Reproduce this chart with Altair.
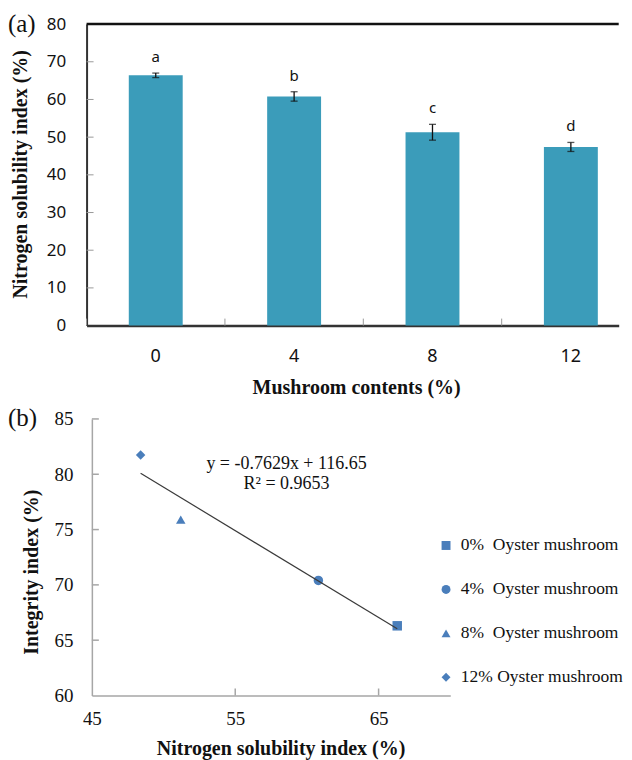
import altair as alt
import pandas as pd

# ---------------- data ----------------
contents = ["0", "4", "8", "12"]
nsi = [66.4, 60.8, 51.3, 47.4]
nsi_err = [0.6, 1.25, 2.1, 1.2]
letters = ["a", "b", "c", "d"]
y_ticks_a = [0, 10, 20, 30, 40, 50, 60, 70, 80]

groups = ["0%\u00a0 Oyster mushroom", "4%\u00a0 Oyster mushroom",
          "8%\u00a0 Oyster mushroom", "12% Oyster mushroom"]
nsi_b = [66.3, 60.8, 51.2, 48.4]
integrity = [66.3, 70.4, 75.9, 81.75]
shapes = ["square", "circle", "triangle-up", "diamond"]
x_ticks_b = [45, 55, 65]
y_ticks_b = [60, 65, 70, 75, 80, 85]
equation = "y = -0.7629x + 116.65"
r2 = "R\u00b2 = 0.9653"

# ---------------- style ----------------
SHIFT = 5.3            # panel (a) plot starts this far left of the shared column origin
W_A, H_A = 533 - SHIFT, 302
W_B, H_B = 359, 277
SERIF = "Liberation Serif"
SANS = "Noto Sans"
BAR = "#3b9cba"
MARK = "#4a7ebb"
INK = "#111111"

TA_X = "Mushroom contents (%)"
TA_Y = "Nitrogen solubility index (%)"
TB_X = "Nitrogen solubility index (%)"
TB_Y = "Integrity index (%)"

# ---------------- panel (a) ----------------
df_a = pd.DataFrame({"c": contents, "v": nsi, "e": nsi_err, "l": letters})
base_a = alt.Chart(df_a).transform_calculate(
    lo="datum.v - datum.e", hi="datum.v + datum.e"
)

axis_xa = alt.Axis(
    labelAngle=0, ticks=False,
    domainColor="#333333", domainWidth=2.5,
    labelFont=SANS, labelFontSize=18, labelColor=INK,
    labelBaseline="middle", labelPadding=31,
    titleFont=SERIF, titleFontSize=20, titleFontWeight="bold", titleColor=INK,
    titleX=270 - SHIFT, titleY=62, titleBaseline="middle", titleAlign="center",
)
axis_ya = alt.Axis(
    values=y_ticks_a, tickCount=9, grid=False, labelOverlap=False,
    ticks=False, domainColor="#333333", domainWidth=2, offset=SHIFT,
    labelFont=SANS, labelFontSize=17, labelColor=INK, labelPadding=21,
    titleFont=SERIF, titleFontSize=20, titleFontWeight="bold", titleColor=INK,
    titleX=-66.2, titleY=150, titleBaseline="middle", titleAlign="center",
)
scale_xa = alt.Scale(range=[-SHIFT, 533 - SHIFT],
                     paddingInner=0.6104, paddingOuter=0.228, align=0.669)
scale_ya = alt.Scale(domain=[0, 80], nice=False)


def xa(field="c:N"):
    return alt.X(field, sort=contents, title=TA_X, scale=scale_xa, axis=axis_xa)


def ya(field):
    return alt.Y(field, title=TA_Y, scale=scale_ya, axis=axis_ya)


bars = base_a.mark_bar(color=BAR).encode(x=xa(), y=ya("v:Q"))
err_rule = base_a.mark_rule(color=INK, strokeWidth=1.3).encode(
    x=xa(), y=ya("lo:Q"), y2="hi:Q"
)
cap_lo = base_a.mark_tick(color=INK, thickness=1.3, size=7).encode(
    x=xa(), y=ya("lo:Q")
)
cap_hi = base_a.mark_tick(color=INK, thickness=1.3, size=7).encode(
    x=xa(), y=ya("hi:Q")
)
letter_txt = base_a.mark_text(
    dy=-11, baseline="alphabetic", font=SANS, fontSize=15, color=INK
).encode(x=xa(), y=ya("hi:Q"), text="l:N")

ytick_a = alt.Chart(pd.DataFrame({"t": y_ticks_a[1:-1]})).mark_rule(
    color="#9a9a9a", strokeWidth=1
).encode(y=ya("t:Q"), x=alt.value(-SHIFT), x2=alt.value(7 - SHIFT))
# small inward ticks half a step left of each bar centre
xtick_a = alt.Chart(df_a).mark_rule(
    color="#9a9a9a", strokeWidth=1, xOffset=-69.3
).encode(x=xa(), y=alt.value(H_A - 7), y2=alt.value(H_A))
frame_top = alt.Chart(pd.DataFrame({"t": [0]})).mark_rule(
    color="#111111", strokeWidth=2.5
).encode(x=alt.value(-SHIFT), x2=alt.value(W_A), y=alt.value(0))
tag_a = alt.Chart(pd.DataFrame({"t": ["(a)"]})).mark_text(
    align="left", baseline="middle", font=SERIF, fontSize=25, color=INK
).encode(text="t:N", x=alt.value(-78.7 - SHIFT), y=alt.value(0))

panel_a = alt.layer(
    bars, err_rule, cap_lo, cap_hi, letter_txt, ytick_a, xtick_a, frame_top, tag_a
).properties(width=W_A, height=H_A)

# ---------------- panel (b) ----------------
df_b = pd.DataFrame({"g": groups, "x": nsi_b, "y": integrity})

axis_xb = alt.Axis(
    values=x_ticks_b, grid=False, labelOverlap=False,
    ticks=False, domainColor="#a6a6a6", domainWidth=1.5,
    labelFont=SERIF, labelFontSize=19, labelColor=INK, labelFlush=False,
    labelBaseline="middle", labelPadding=23,
    titleFont=SERIF, titleFontSize=20, titleFontWeight="bold", titleColor=INK,
    titleX=189, titleY=53, titleBaseline="middle", titleAlign="center",
)
axis_yb = alt.Axis(
    values=y_ticks_b, grid=False, labelOverlap=False,
    ticks=False, domainColor="#a6a6a6", domainWidth=1.5,
    labelFont=SERIF, labelFontSize=19, labelColor=INK, labelFlush=False,
    labelPadding=19,
    titleFont=SERIF, titleFontSize=20, titleFontWeight="bold", titleColor=INK,
    titleX=-60, titleY=153, titleBaseline="middle", titleAlign="center",
)
scale_xb = alt.Scale(domain=[45, 70], nice=False, zero=False)
scale_yb = alt.Scale(domain=[60, 85], nice=False, zero=False)


def xb(field):
    return alt.X(field, title=TB_X, scale=scale_xb, axis=axis_xb)


def yb(field):
    return alt.Y(field, title=TB_Y, scale=scale_yb, axis=axis_yb)


trend = alt.Chart(df_b).transform_regression("x", "y").mark_line(
    color="#3a3a3a", strokeWidth=1.2
).encode(x=xb("x:Q"), y=yb("y:Q"))

pts = alt.Chart(df_b).mark_point(
    filled=True, size=90, opacity=1, color=MARK
).encode(
    x=xb("x:Q"), y=yb("y:Q"),
    shape=alt.Shape(
        "g:N", sort=groups,
        scale=alt.Scale(domain=groups, range=shapes),
        legend=alt.Legend(
            title=None, orient="none", legendX=346, legendY=118, padding=0,
            labelFont=SERIF, labelFontSize=17.5, labelColor=INK, labelOffset=6,
            labelLimit=0,
            symbolSize=80, symbolFillColor=MARK, symbolStrokeColor=MARK,
            symbolStrokeWidth=0, rowPadding=25,
        ),
    ),
)

ytick_b = alt.Chart(pd.DataFrame({"t": y_ticks_b[1:]})).mark_rule(
    color="#a6a6a6", strokeWidth=1.5
).encode(y=yb("t:Q"), x=alt.value(0), x2=alt.value(7))
xtick_b = alt.Chart(pd.DataFrame({"t": x_ticks_b[1:]})).mark_rule(
    color="#a6a6a6", strokeWidth=1.5
).encode(x=xb("t:Q"), y=alt.value(H_B - 7), y2=alt.value(H_B))

eq1 = alt.Chart(pd.DataFrame({"t": [equation]})).mark_text(
    align="center", baseline="middle", font=SERIF, fontSize=18, color=INK
).encode(text="t:N", x=alt.value(195), y=alt.value(45))
eq2 = alt.Chart(pd.DataFrame({"t": [r2]})).mark_text(
    align="center", baseline="middle", font=SERIF, fontSize=18, color=INK
).encode(text="t:N", x=alt.value(195), y=alt.value(65))

tag_b = alt.Chart(pd.DataFrame({"t": ["(b)"]})).mark_text(
    align="left", baseline="middle", font=SERIF, fontSize=25, color=INK
).encode(text="t:N", x=alt.value(-84), y=alt.value(-1))

panel_b = alt.layer(
    pts, ytick_b, xtick_b, trend, eq1, eq2, tag_b
).properties(width=W_B, height=H_B)

chart = alt.vconcat(panel_a, panel_b, spacing=8.5).resolve_legend(
    shape="independent"
).properties(
    padding={"left": 0, "top": 3.5, "right": 0, "bottom": 0},
    background="white",
).configure_view(strokeWidth=0)

chart.save("out.html", embed_options={"renderer": "svg", "actions": False})
